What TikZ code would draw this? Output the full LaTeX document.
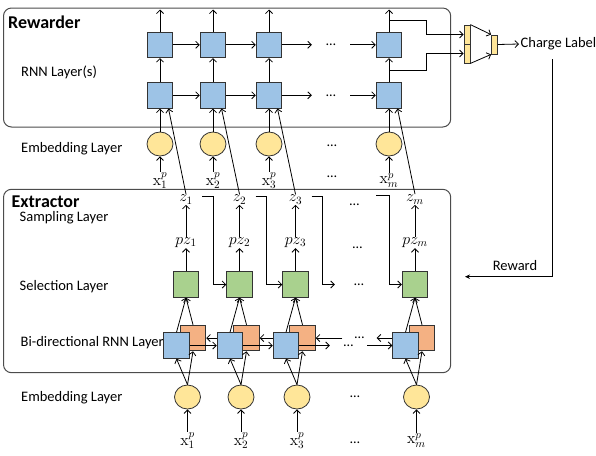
\RequirePackage{fix-cm}
\documentclass[tikz,border=0pt]{standalone}
\usepackage[no-math]{fontspec}
\setmainfont{Carlito}
\usetikzlibrary{arrows.meta,calc,shapes.geometric}
\definecolor{bluefill}{HTML}{9DC3E6}
\definecolor{greenfill}{HTML}{A9D18E}
\definecolor{orangefill}{HTML}{F4B183}
\definecolor{yellowfill}{HTML}{FFE699}
\begin{document}
\begin{tikzpicture}[x=1pt,y=-1pt,
 sq/.style={draw=black!80, line width=1pt, minimum size=25.5pt, inner sep=0pt},
 bluesq/.style={sq, fill=bluefill},
 greensq/.style={sq, fill=greenfill},
 orangesq/.style={sq, fill=orangefill},
 emb/.style={ellipse, draw=black!80, line width=0.8pt, fill=yellowfill, minimum width=26pt, minimum height=24pt, inner sep=0pt},
 arr/.style={-{Straight Barb[length=3.5pt,width=7pt]}, line width=0.8pt},
 lbl/.style={font=\fontsize{14.5}{17}\selectfont, anchor=west, inner sep=0pt},
 ttl/.style={font=\fontsize{18}{21}\selectfont\bfseries, anchor=west, inner sep=0pt},
 mth/.style={font=\fontsize{16}{18}\selectfont, inner sep=0.5pt},
 dotsnode/.style={font=\fontsize{14}{16}\selectfont, inner sep=0pt},
 grp/.style={draw=black!70, line width=1pt, rounded corners=8pt},
 mrg/.style={draw=black!80, line width=0.8pt, fill=yellowfill, minimum width=6pt, minimum height=19pt, inner sep=0pt},
]
\useasboundingbox (0,0) rectangle (596,455);

% group boxes
\draw[grp] (3.5,8) rectangle (450.7,127);
\draw[grp] (3.5,189.3) rectangle (450.7,372.7);
\node[ttl] (trw) at (8,22.5) {Rewarder};
\node[ttl] (tex) at (11.5,201.5) {Extractor};

% left labels
\node[lbl] (l1) at (21,72.5) {RNN Layer(s)};
\node[lbl] (l2) at (21,149) {Embedding Layer};
\node[lbl] (l3) at (19.5,218) {Sampling Layer};
\node[lbl] (l4) at (19.5,287) {Selection Layer};
\node[lbl] (l5) at (20.5,343) {Bi-directional RNN Layer};
\node[lbl] (l6) at (21,397.5) {Embedding Layer};

% ---------------- Rewarder ----------------
\foreach \i/\x in {1/160,2/213,3/269,m/389}{
  \node[bluesq] (ra\i) at (\x,95.3) {};
  \node[bluesq] (rb\i) at (\x,44.8) {};
  \node[emb] (re\i) at (\x,144) {};
  \node[mth] (rx\i) at (\x,180.5) {$\mathrm{x}_{\i}^{p}$};
  \coordinate (rt\i) at (\x,9.5);
  \draw[arr] (rx\i.north) -- (re\i.south);
  \draw[arr] (re\i.north) -- (ra\i.south);
  \draw[arr] (ra\i.north) -- (rb\i.south);
  \draw[arr] (rb\i.north) -- (rt\i);
}
\node[dotsnode, minimum width=38pt] (rda) at (331,95.3) {\ldots};
\node[dotsnode, minimum width=38pt] (rdb) at (331,44.8) {\ldots};
\node[dotsnode] (rdc) at (332,145.5) {\ldots};
\node[dotsnode] (rdd) at (332,177) {\ldots};
\draw[arr] (ra1.east) -- (ra2.west);
\draw[arr] (ra2.east) -- (ra3.west);
\draw[arr] (ra3.east) -- (rda.west);
\draw[arr] (rda.east) -- (ram.west);
\draw[arr] (rb1.east) -- (rb2.west);
\draw[arr] (rb2.east) -- (rb3.west);
\draw[arr] (rb3.east) -- (rdb.west);
\draw[arr] (rdb.east) -- (rbm.west);

% merge
\node[mrg] (mg1) at (467,34.5) {};
\node[mrg] (mg2) at (467,53.5) {};
\node[mrg] (mg3) at (494.5,44.5) {};
\draw[arr] ($(rbm.north)+(0,-11)$) -- ++(37.7,0) |- (mg1.west);
\draw[arr] ($(ram.north)!0.5!(rbm.south)$) -- ++(37.7,0) |- (mg2.west);
\draw[arr] (mg1.north east) -- (mg3.north west);
\draw[arr] (mg2.south east) -- (mg3.south west);
\node[lbl, inner sep=1.5pt] (chg) at (519,44) {Charge Label};
\draw[arr] (mg3.east) -- (chg.west);
\coordinate (rwend) at (465,276.7);
\draw[-{Stealth[length=5pt,width=4.5pt]}, line width=0.8pt] ($(chg.south)+(-6,7.5)$) |- (rwend);
\node[font=\fontsize{14.5}{17}\selectfont, inner sep=0pt] (rwd) at (515,266) {Reward};

% ---------------- Extractor ----------------
\foreach \i/\x in {1/186,2/239.5,3/295.5,m/415}{
  \node[mth] (z\i) at (\x,199.5) {$z_{\i}$};
  \node[mth] (pz\i) at (\x,242.5) {$pz_{\i}$};
  \node[greensq] (g\i) at (\x,284.5) {};
  \node[orangesq] (o\i) at ({\x+7},338) {};
  \node[emb] (be\i) at ({\x+1.5},397) {};
  \node[mth] (bx\i) at ({\x+1.5},440.5) {$\mathrm{x}_{\i}^{p}$};
  \draw[arr] (pz\i.north) -- (z\i.south);
  \draw[arr] (g\i.north) -- (pz\i.south);
  \draw[arr] (z\i.north) -- ($(ra\i.south)+(8.5,0)$);
  \draw[arr] (bx\i.north) -- (be\i.south);
}
% dots in extractor
\node[dotsnode] (zd) at (354.5,205) {\ldots};
\node[dotsnode] (pzd) at (357.5,248) {\ldots};
\node[dotsnode, minimum width=48pt] (gd) at (359,284.5) {\ldots};
\node[dotsnode, minimum width=34pt] (bdl) at (359.5,338) {\ldots};
\node[dotsnode, minimum width=37pt] (bdr) at (348.5,345.5) {\ldots};
\node[dotsnode] (bed) at (355,396.7) {\ldots};
\node[dotsnode] (bxd) at (355,442.5) {\ldots};

% z chain to next selection
\draw[arr] ($(z1.center)+(16,-3.5)$) -- ++(11,0) |- (g2.west);
\draw[arr] ($(z2.center)+(16,-3.5)$) -- ++(11,0) |- (g3.west);
\draw[arr] ($(z3.center)+(16,-3.5)$) -- ++(11,0) |- (gd.west);
\coordinate (zds) at (376,195.7);
\draw[arr] (zds) -- ++(13,0) |- (gm.west);

% bi-directional arrows (behind blue squares)
\draw[arr] (o2.west) -- (o1.east);
\draw[arr] (o3.west) -- (o2.east);
\draw[arr] (bdl.west) -- (o3.east);
\draw[arr] (om.west) -- (bdl.east);

\foreach \i/\x in {1/186,2/239.5,3/295.5,m/415}{
  \node[bluesq] (b\i) at ({\x-9.5},345.5) {};
}
\draw[arr] (b1.east) -- (b2.west);
\draw[arr] (b2.east) -- (b3.west);
\draw[arr] (b3.east) -- (bdr.west);
\draw[arr] (bdr.east) -- (bm.west);

\foreach \i in {1,2,3,m}{
  \draw[arr] (b\i.north) -- (g\i.south);
  \draw[arr] (o\i.north) -- (g\i.south);
  \draw[arr] (be\i.north) -- (b\i.south);
  \draw[arr] (be\i.north) -- (o\i.south);
}
\end{tikzpicture}
\end{document}
